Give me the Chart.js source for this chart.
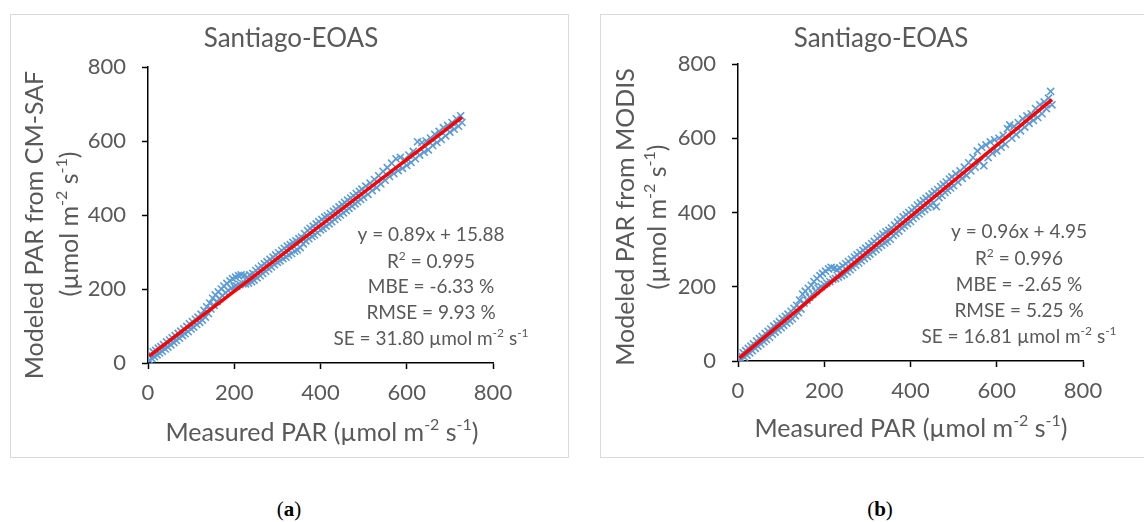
<!DOCTYPE html>
<html>
<head>
<meta charset="utf-8">
<script src="https://cdn.jsdelivr.net/npm/chart.js@4.4.0/dist/chart.umd.min.js"></script>
<style>
    body { margin: 0; width: 1144px; height: 522px; background: #fff; position: relative; overflow: hidden; font-family: Lato, sans-serif; }
    .box { position: absolute; border: 1px solid #d9d9d9; box-sizing: border-box; }
    canvas { position: absolute; }
    .tag { position: absolute; top: 497px; font: 21px "Liberation Serif", serif; color: #000; transform: translateX(-50%); }
    .tag b { font-weight: bold; }
</style>
</head>
<body>
<div class="box" style="left:10px;top:14px;width:559px;height:444px"></div>
<div class="box" style="left:600px;top:14px;width:560px;height:444px"></div>
<canvas id="chartA" width="558" height="443" style="left:10px;top:14px"></canvas>
<canvas id="chartB" width="544" height="443" style="left:600px;top:14px"></canvas>
<div class="tag" style="left:289px">(<b>a</b>)</div>
<div class="tag" style="left:880px">(<b>b</b>)</div>

<script>
// PAR medido - o mesmo nos dois painéis
const measured = [
    3, 6, 9, 12, 15, 18, 21, 24, 27, 30, 33, 36,
    40, 43, 46, 50, 53, 56, 60, 63, 66, 70, 73, 76, 80, 83, 86, 90, 93, 96,
    100, 103, 106, 110, 113, 116, 120, 123, 126, 130, 133, 136, 140, 143, 146, 150, 153, 156, 160, 163, 166, 170, 173, 176, 180, 183, 186, 190, 193, 196,
    200, 203, 206, 210, 213, 216, 220, 223, 226, 230, 233, 236, 240, 243, 246, 250, 253, 256, 260, 263, 266, 270, 273, 276, 280, 283, 286, 290, 293, 296,
    300, 303, 306, 310, 313, 316, 320, 323, 326, 330, 333, 336, 340, 343, 346, 350, 353, 356, 360, 363, 366, 370, 373, 376, 380, 383, 386, 390, 393, 396,
    400, 403, 406, 410, 413, 416, 420, 423, 426, 430, 433, 436, 440, 443, 446, 450, 453, 456, 460, 463, 466, 470, 473, 476, 480, 483, 486, 490, 493, 496,
    500, 505, 510, 515, 520, 525, 530, 535, 540, 545, 550, 555, 560, 565, 570, 575, 580, 585, 590, 595,
    600, 605, 610, 615, 620, 625, 630, 635, 640, 645, 650, 655, 660, 665, 670, 675, 680, 685, 690, 695,
    700, 705, 710, 715, 720, 725, 728
];

// PAR modelado CM-SAF (painel a)
const modeledCMSAF = [
    8, 24, 12, 30, 17, 34, 22, 40, 27, 44, 32, 50,
    38, 57, 43, 62, 49, 68, 55, 74, 61, 80, 67, 86, 74, 92, 79, 99, 85, 106,
    92, 112, 97, 118, 104, 124, 110, 132, 116, 142, 124, 152, 134, 162, 146, 175, 156, 184, 166, 192, 174, 200, 182, 208, 190, 215, 196, 222, 202, 228,
    206, 232, 208, 236, 212, 238, 214, 236, 214, 232, 216, 238, 220, 242, 224, 250, 230, 256, 236, 262, 242, 268, 248, 274, 254, 280, 260, 286, 266, 292,
    272, 298, 276, 304, 282, 310, 286, 316, 292, 320, 296, 326, 302, 330, 306, 336, 312, 340, 322, 350, 330, 358, 336, 364, 342, 370, 346, 376, 352, 382,
    360, 388, 364, 394, 370, 398, 376, 404, 382, 410, 388, 416, 394, 422, 400, 428, 406, 434, 412, 440, 418, 446, 424, 452, 430, 458, 436, 464, 442, 470,
    448, 478, 456, 486, 466, 496, 474, 506, 484, 518, 494, 528, 504, 540, 512, 552, 520, 556, 526, 550,
    534, 562, 542, 572, 552, 598, 562, 596, 570, 600, 576, 608, 588, 618, 596, 626, 604, 636, 614, 642,
    624, 650, 632, 660, 640, 668, 650
];

// PAR modelado MODIS (painel b)
const modeledMODIS = [
    2, 16, 4, 22, 10, 28, 16, 34, 22, 40, 28, 46,
    34, 54, 40, 60, 46, 66, 52, 74, 58, 80, 64, 86, 72, 94, 78, 100, 84, 106,
    90, 114, 96, 120, 102, 126, 108, 134, 114, 142, 122, 150, 130, 164, 140, 180, 156, 188, 164, 196, 172, 204, 180, 214, 188, 222, 196, 230, 200, 236,
    206, 242, 210, 248, 214, 252, 220, 250, 222, 246, 226, 250, 230, 256, 234, 262, 240, 268, 246, 274, 252, 280, 258, 286, 264, 292, 270, 298, 276, 304,
    282, 310, 288, 316, 294, 322, 300, 330, 306, 336, 312, 342, 318, 348, 322, 352, 328, 358, 338, 366, 344, 374, 350, 380, 358, 388, 364, 394, 370, 400,
    376, 406, 384, 412, 390, 420, 396, 426, 402, 432, 408, 438, 414, 444, 420, 450, 426, 456, 416, 462, 440, 470, 446, 476, 454, 482, 460, 490, 466, 496,
    472, 504, 482, 512, 492, 522, 500, 534, 512, 548, 522, 566, 536, 576, 526, 582, 548, 590, 560, 596,
    566, 600, 576, 608, 584, 626, 636, 600, 632, 610, 642, 620, 652, 630, 660, 640, 666, 648, 680, 656,
    690, 666, 698, 680, 708, 726, 690
];

const fitCMSAF = [0.89, 15.88];   // inclinação, intercepto
const fitMODIS = [0.96, 4.95];

const statsCMSAF = ['y = 0.89x + 15.88', 'R^2^ = 0.995', 'MBE = -6.33 %', 'RMSE = 9.93 %', 'SE = 31.80 µmol m^-2^ s^-1^'];
const statsMODIS = ['y = 0.96x + 4.95', 'R^2^ = 0.996', 'MBE = -2.65 %', 'RMSE = 5.25 %', 'SE = 16.81 µmol m^-2^ s^-1^'];

const axisTicks = [0, 200, 400, 600, 800];
const chartTitle = 'Santiago-EOAS';
const xTitle = 'Measured PAR (µmol m^-2^ s^-1^)';

const TEXT = '#595959';
const FONT = 'Lato';

Chart.defaults.font.family = FONT;
Chart.defaults.color = TEXT;

// texto com sobrescritos entre ^...^, centrado em (x, y)
function richText(ctx, text, x, y, size) {
    const parts = text.split('^');
    const supSize = Math.round(size * 0.62);
    const widths = parts.map((p, i) => {
        ctx.font = (i % 2 ? supSize : size) + 'px ' + FONT;
        return ctx.measureText(p).width;
    });
    let cx = x - widths.reduce((a, b) => a + b, 0) / 2;
    ctx.textAlign = 'left';
    ctx.textBaseline = 'middle';
    parts.forEach((p, i) => {
        ctx.font = (i % 2 ? supSize : size) + 'px ' + FONT;
        ctx.fillText(p, cx, i % 2 ? y - size * 0.33 : y);
        cx += widths[i];
    });
}

function criarGrafico(id, modeled, fit, stats, yTitle, pos) {
    const points = measured.map((x, i) => ({ x: x, y: modeled[i] }));
    const x0 = Math.min(...measured), x1 = Math.max(...measured);
    const fitLine = [x0, x1].map(x => ({ x: x, y: fit[0] * x + fit[1] }));

    const textos = {
        id: 'textos',
        afterDraw(chart) {
            const ctx = chart.ctx;
            ctx.save();
            ctx.fillStyle = TEXT;
            richText(ctx, chartTitle, pos.title[0], pos.title[1], 26);
            richText(ctx, xTitle, pos.xTitle[0], pos.xTitle[1], 25);
            yTitle.forEach((t, i) => {
                ctx.save();
                ctx.translate(pos.yTitle[i][0], pos.yTitle[i][1]);
                ctx.rotate(-Math.PI / 2);
                richText(ctx, t, 0, 0, 25);
                ctx.restore();
            });
            stats.forEach((t, i) => richText(ctx, t, pos.stats[0], pos.stats[1][i], 19));
            ctx.restore();
        }
    };

    const eixo = (fitSize, pad) => ({
        type: 'linear',
        min: 0,
        max: 800,
        afterBuildTicks: s => { s.ticks = axisTicks.map(v => ({ value: v })); },
        afterFit: fitSize,
        ticks: { font: { size: 22 }, color: TEXT, padding: pad },
        grid: { drawOnChartArea: false, tickLength: 6, tickColor: '#000', tickWidth: 1.5, color: '#000' },
        border: { color: '#000', width: 1.5 }
    });

    return new Chart(document.getElementById(id).getContext('2d'), {
        type: 'scatter',
        data: {
            datasets: [{
                type: 'line',
                data: fitLine,
                borderColor: '#ff0000',
                borderWidth: 3.5,
                pointRadius: 0,
                order: 0
            }, {
                data: points,
                pointStyle: 'crossRot',
                pointRadius: 5,
                borderColor: '#5b9bd5',
                borderWidth: 1.6,
                order: 1
            }]
        },
        options: {
            responsive: false,
            animation: false,
            layout: { padding: pos.pad },
            plugins: { legend: { display: false }, tooltip: { enabled: false } },
            scales: {
                x: eixo(s => { s.height = pos.xH; }, 11),
                y: eixo(s => { s.width = pos.yW; }, 16)
            }
        },
        plugins: [textos]
    });
}

criarGrafico('chartA', modeledCMSAF, fitCMSAF, statsCMSAF,
    ['Modeled PAR from CM-SAF', '(µmol m^-2^ s^-1^)'],
    {
        pad: { left: 0, top: 53, right: 75, bottom: 0 },
        yW: 138, xH: 94,
        title: [281, 25], xTitle: [312, 419],
        yTitle: [[25, 211], [60, 210]],
        stats: [421, [221, 248, 273, 299, 325]]
    });

criarGrafico('chartB', modeledMODIS, fitMODIS, statsMODIS,
    ['Modeled PAR from MODIS', '(µmol m^-2^ s^-1^)'],
    {
        pad: { left: 0, top: 50, right: 61, bottom: 0 },
        yW: 138, xH: 96,
        title: [281, 25], xTitle: [311, 415],
        yTitle: [[26, 203], [58, 203]],
        stats: [419, [218, 245, 271, 297, 323]]
    });
</script>
</body>
</html>
